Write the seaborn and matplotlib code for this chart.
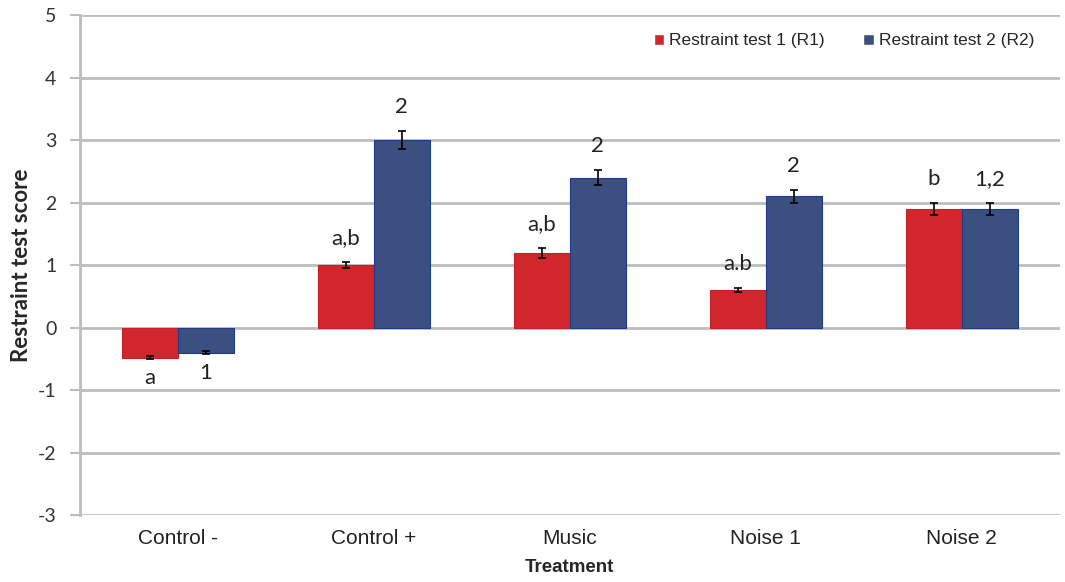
import numpy as np
import pandas as pd
import seaborn as sns
from matplotlib import pyplot as plt

treatments = ["Control -", "Control +", "Music", "Noise 1", "Noise 2"]
series = ["Restraint test 1 (R1)", "Restraint test 2 (R2)"]
r1_mean = [-0.48, 1.0, 1.2, 0.6, 1.9]
r2_mean = [-0.4, 3.0, 2.4, 2.1, 1.9]
r1_err = [0.02, 0.05, 0.08, 0.03, 0.1]
r2_err = [0.02, 0.15, 0.12, 0.1, 0.1]
r1_letters = ["a", "a,b", "a,b", "a.b", "b"]
r2_letters = ["1", "2", "2", "2", "1,2"]

colors = ["#D2262D", "#3B4F80"]
edges = ["#C42028", "#1F3C8A"]

df = pd.DataFrame({
    "Treatment": treatments * 2,
    "Test": [series[0]] * 5 + [series[1]] * 5,
    "Score": r1_mean + r2_mean,
})

sns.set_style("white")
plt.rcParams["font.family"] = ["Lato", "DejaVu Sans"]
plt.rcParams["axes.unicode_minus"] = False
narrow = ["Liberation Sans Narrow", "Liberation Sans", "DejaVu Sans"]

fig = plt.figure(figsize=(10.65, 5.82), dpi=100)
ax = fig.add_axes([0.075, 0.115, 0.92, 0.859])

sns.barplot(data=df, x="Treatment", y="Score", hue="Test", order=treatments,
            hue_order=series, palette=colors, saturation=1, errorbar=None,
            width=0.57, ax=ax, zorder=3)

means = [r1_mean, r2_mean]
errs = [r1_err, r2_err]
letters = [r1_letters, r2_letters]
bar_groups = list(ax.containers)
for k, cont in enumerate(bar_groups):
    for i, bar in enumerate(cont):
        bar.set_edgecolor(edges[k])
        bar.set_linewidth(0.8)
        cx = bar.get_x() + bar.get_width() / 2
        m, e = means[k][i], errs[k][i]
        ax.errorbar(cx, m, yerr=e, color="black", capsize=3, lw=1.2,
                    capthick=1.2, zorder=4)
        if m >= 0:
            ax.text(cx, m + e + 0.22, letters[k][i], ha="center", va="bottom",
                    fontsize=16, color="#222222")
        else:
            ax.text(cx, m - e - 0.15, letters[k][i], ha="center", va="top",
                    fontsize=16, color="#222222")

ax.set_ylim(-3, 5)
ax.set_xlim(-0.5, 4.5)
ax.set_yticks(range(-3, 6))
ax.set_xticks(range(len(treatments)))
ax.set_xticklabels(treatments, fontfamily=narrow)
ax.yaxis.grid(True, color="#BDBDBD", lw=2, zorder=0)
ax.set_axisbelow(True)
for s in ["top", "right", "bottom"]:
    ax.spines[s].set_visible(False)
ax.spines["left"].set_color("#BDBDBD")
ax.spines["left"].set_linewidth(2)
ax.tick_params(axis="y", labelsize=14, length=7, color="#BDBDBD", width=1.5,
               left=True, pad=10, labelcolor="#333333")
ax.tick_params(axis="x", labelsize=15, length=0, pad=10, labelcolor="#222222")
ax.set_xlabel("Treatment", fontsize=13.5, fontweight="bold", labelpad=8,
              fontfamily=narrow)
ax.set_ylabel("Restraint test score", fontsize=16, fontweight="bold", labelpad=4)

leg = ax.legend(loc="upper right", bbox_to_anchor=(0.99, 0.995), ncol=2,
                frameon=False, handlelength=0.6, handleheight=0.6,
                handletextpad=0.3, columnspacing=2.2,
                prop={"family": ["Liberation Sans", "DejaVu Sans"], "size": 12.5})

fig.savefig("out.png", dpi=100)
